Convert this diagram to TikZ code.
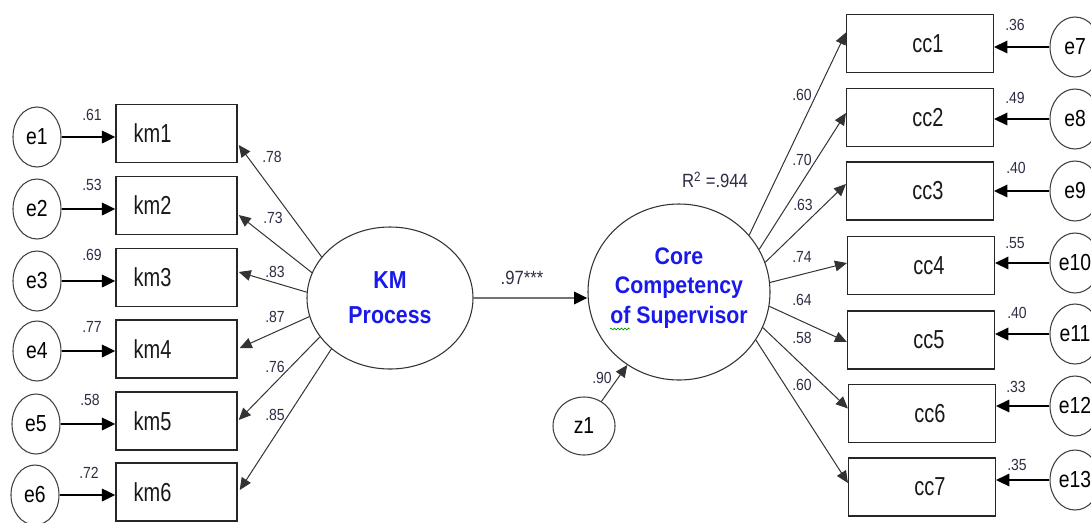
\documentclass[tikz,border=0pt]{standalone}
\usepackage{fontspec}
\setmainfont{Liberation Sans}
\usepackage{graphicx}
\usetikzlibrary{shapes.geometric,arrows.meta,calc,decorations.pathmorphing}
\newcommand\vs[2][1.3]{\scalebox{1}[#1]{#2}}
\definecolor{numc}{RGB}{45,45,70}
\definecolor{latc}{RGB}{25,25,235}
\begin{document}
\begin{tikzpicture}[x=0.75pt,y=-0.75pt,
  err/.style={ellipse, draw=black!75, line width=0.8pt, minimum width=36pt, minimum height=45pt, inner sep=0pt, font=\fontsize{14.5}{16}\selectfont},
  obs/.style={rectangle, draw=black!85, line width=1.1pt, minimum height=43.5pt, inner sep=0pt, font=\fontsize{15}{17}\selectfont, text=black!90},
  kmbox/.style={obs, minimum width=90.75pt},
  ccbox/.style={obs, minimum width=110pt},
  num/.style={font=\fontsize{10.5}{12}\selectfont, text=numc, inner sep=0pt},
  lat/.style={ellipse, draw=black!80, line width=0.8pt, inner sep=0pt, align=center, text=latc},
  arr/.style={draw=black!80, line width=0.75pt, -{Triangle[length=9pt,width=8pt]}},
  earr/.style={draw=black, line width=1pt, -{Triangle[length=10pt,width=9.5pt]}}
]
\useasboundingbox (0,0) rectangle (1091,522);
\fill[white] (0,0) rectangle (1091,522);
\clip (0,0) rectangle (1091,522);

% left error terms
\node[err] (e1) at (37,137) {\vs[1.2]{e1}};
\node[err] (e2) at (37,209) {\vs[1.2]{e2}};
\node[err] (e3) at (37,281) {\vs[1.2]{e3}};
\node[err] (e4) at (37,351) {\vs[1.2]{e4}};
\node[err] (e5) at (36,424) {\vs[1.2]{e5}};
\node[err] (e6) at (35,495) {\vs[1.2]{e6}};

% km boxes
\node[kmbox] (km1) at (176.5,133.5) {\vs{km1}\kern36pt};
\node[kmbox] (km2) at (176.5,205.5) {\vs{km2}\kern36pt};
\node[kmbox] (km3) at (176.5,277.5) {\vs{km3}\kern36pt};
\node[kmbox] (km4) at (176.5,349) {\vs{km4}\kern36pt};
\node[kmbox] (km5) at (176.5,421) {\vs{km5}\kern36pt};
\node[kmbox] (km6) at (176.5,492) {\vs{km6}\kern36pt};

% latent variables
\node[lat, minimum width=124.5pt, minimum height=106.5pt, font=\bfseries\fontsize{16}{26}\selectfont] (km) at (390,298) {\vs[1.15]{KM}\\\vs[1.15]{Process}};
\node[lat, minimum width=136.5pt, minimum height=132pt, font=\bfseries\fontsize{16}{22}\selectfont] (core) at (679,292) {};
\node[text=latc, align=center, inner sep=0pt, font=\bfseries\fontsize{16}{22}\selectfont] (coretxt) at (679,288) {\vs[1.12]{Core}\\\vs[1.12]{Competency}\\\vs[1.12]{of Supervisor}};
\draw[green!60!black, line width=0.5pt, decorate, decoration={snake, amplitude=0.7pt, segment length=2.6pt}] (610,329) -- (630,329);

\node[err, minimum width=46.5pt, minimum height=43.5pt] (z1) at (584,426) {\vs[1.2]{z1}};

% cc boxes
\node[ccbox] (cc1) at (920,43.5) {\kern12pt\vs{cc1}};
\node[ccbox] (cc2) at (920,117.5) {\kern12pt\vs{cc2}};
\node[ccbox] (cc3) at (920,191) {\kern12pt\vs{cc3}};
\node[ccbox] (cc4) at (921,265.5) {\kern12pt\vs{cc4}};
\node[ccbox] (cc5) at (921,340) {\kern12pt\vs{cc5}};
\node[ccbox] (cc6) at (922,413.5) {\kern12pt\vs{cc6}};
\node[ccbox] (cc7) at (922,487) {\kern12pt\vs{cc7}};

% right error terms
\node[err, minimum width=37.5pt] (e7) at (1075,47) {\vs[1.2]{e7}};
\node[err, minimum width=37.5pt] (e8) at (1075,119) {\vs[1.2]{e8}};
\node[err, minimum width=37.5pt] (e9) at (1075,191) {\vs[1.2]{e9}};
\node[err, minimum width=37.5pt] (e10) at (1075,263) {\vs[1.2]{e10}};
\node[err, minimum width=37.5pt] (e11) at (1075,334) {\vs[1.2]{e11}};
\node[err, minimum width=37.5pt] (e12) at (1075,406) {\vs[1.2]{e12}};
\node[err, minimum width=37.5pt] (e13) at (1075,480) {\vs[1.2]{e13}};

% error arrows left
\draw[earr] (e1) -- (e1 -| km1.west);
\draw[earr] (e2) -- (e2 -| km2.west);
\draw[earr] (e3) -- (e3 -| km3.west);
\draw[earr] (e4) -- (e4 -| km4.west);
\draw[earr] (e5) -- (e5 -| km5.west);
\draw[earr] (e6) -- (e6 -| km6.west);

% loadings left
\draw[arr] (km.149) -- ($(km1.east)+(1,11.5)$);
\draw[arr] (km.162) -- ($(km2.east)+(1,9.5)$);
\draw[arr] (km.176) -- ($(km3.east)+(1,-5.5)$);
\draw[arr] (km.193) -- ($(km4.east)+(2,-1)$);
\draw[arr] (km.209) -- ($(km5.east)+(1,-1)$);
\draw[arr] (km.221) -- ($(km6.east)+(2,-2)$);

% structural path
\draw[line width=2.2pt, draw=black!55, -{Triangle[length=10pt,width=9pt,color=black]}] (km) -- (km -| core.west);
\draw[arr] (z1) -- (core);

% loadings right
\draw[arr] (core.39) -- ($(cc1.west)+(0,-11)$);
\draw[arr] (core.28) -- ($(cc2.west)+(0,-4.5)$);
\draw[arr] (core.19) -- ($(cc3.west)+(0,-7)$);
\draw[arr] (core.6) -- ($(cc4.west)+(0,-2.5)$);
\draw[arr] (core.-9) -- ($(cc5.west)+(0,2)$);
\draw[arr] (core.-23) -- ($(cc6.west)+(0,-5)$);
\draw[arr] (core.-32) -- ($(cc7.west)+(0,-4)$);

% error arrows right
\draw[earr] (e7) -- (e7 -| cc1.east);
\draw[earr] (e8) -- (e8 -| cc2.east);
\draw[earr] (e9) -- (e9 -| cc3.east);
\draw[earr] (e10) -- (e10 -| cc4.east);
\draw[earr] (e11) -- (e11 -| cc5.east);
\draw[earr] (e12) -- (e12 -| cc6.east);
\draw[earr] (e13) -- (e13 -| cc7.east);

% labels
\node[num] (n1) at (92,115) {\vs[1.15]{.61}};
\node[num] (n2) at (92,185) {\vs[1.15]{.53}};
\node[num] (n3) at (92,255) {\vs[1.15]{.69}};
\node[num] (n4) at (92,327) {\vs[1.15]{.77}};
\node[num] (n5) at (90,400) {\vs[1.15]{.58}};
\node[num] (n6) at (89,473) {\vs[1.15]{.72}};

\node[num] (l1) at (272,157) {\vs[1.15]{.78}};
\node[num] (l2) at (273,218) {\vs[1.15]{.73}};
\node[num] (l3) at (275,272) {\vs[1.15]{.83}};
\node[num] (l4) at (275,317) {\vs[1.15]{.87}};
\node[num] (l5) at (275,367) {\vs[1.15]{.76}};
\node[num] (l6) at (275,415) {\vs[1.15]{.85}};

\node[num, font=\fontsize{12.5}{14}\selectfont] (beta) at (522,278) {\vs[1.15]{.97***}};
\node[num] (zl) at (602,378) {\vs[1.15]{.90}};
\node[num, font=\fontsize{12.5}{14}\selectfont] (r2) at (715,180) {\vs[1.15]{R\textsuperscript{2} =.944}};

\node[num] (m1) at (802,95) {\vs[1.15]{.60}};
\node[num] (m2) at (802,160) {\vs[1.15]{.70}};
\node[num] (m3) at (803,205) {\vs[1.15]{.63}};
\node[num] (m4) at (802,257) {\vs[1.15]{.74}};
\node[num] (m5) at (802,300) {\vs[1.15]{.64}};
\node[num] (m6) at (802,338) {\vs[1.15]{.58}};
\node[num] (m7) at (802,385) {\vs[1.15]{.60}};

\node[num] (r7) at (1015,25) {\vs[1.15]{.36}};
\node[num] (r8) at (1015,98) {\vs[1.15]{.49}};
\node[num] (r9) at (1016,168) {\vs[1.15]{.40}};
\node[num] (r10) at (1015,243) {\vs[1.15]{.55}};
\node[num] (r11) at (1017,313) {\vs[1.15]{.40}};
\node[num] (r12) at (1016,387) {\vs[1.15]{.33}};
\node[num] (r13) at (1017,465) {\vs[1.15]{.35}};
\end{tikzpicture}
\end{document}
